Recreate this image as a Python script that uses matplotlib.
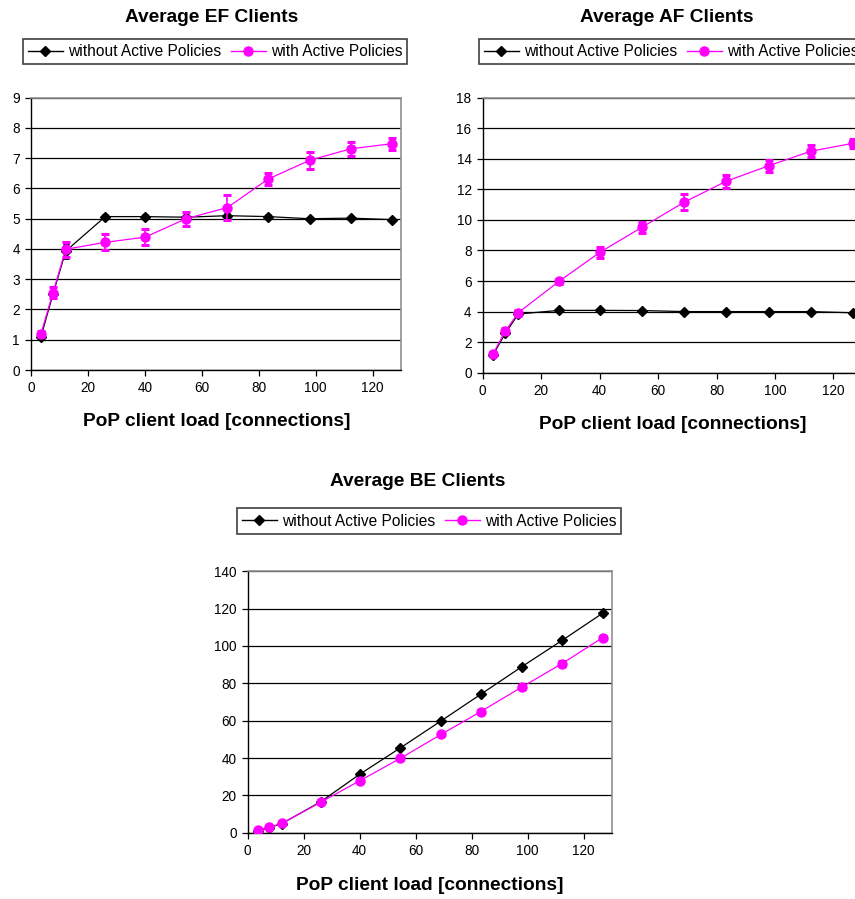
import matplotlib
matplotlib.use("Agg")
import matplotlib.pyplot as plt
from matplotlib.lines import Line2D

plt.rcParams['font.family'] = ['Liberation Sans', 'DejaVu Sans']

# ---- data ----
load = [3.5, 7.7, 12.2, 26.1, 40.1, 54.5, 69.0, 83.3, 97.9, 112.3, 126.8]

ef_without = [1.1, 2.5, 3.93, 5.07, 5.07, 5.05, 5.1, 5.07, 5.0, 5.02, 4.97]
ef_without_err = [0.05, 0.06, 0.22, 0.04, 0.04, 0.04, 0.04, 0.04, 0.04, 0.04, 0.03]
ef_with = [1.2, 2.55, 3.99, 4.22, 4.39, 5.0, 5.37, 6.31, 6.93, 7.31, 7.48]
ef_with_err = [0.1, 0.18, 0.24, 0.26, 0.27, 0.23, 0.4, 0.21, 0.28, 0.23, 0.2]

af_without = [1.15, 2.57, 3.84, 4.08, 4.08, 4.07, 4.0, 4.0, 4.0, 4.0, 3.92]
af_without_err = [0.05, 0.05, 0.05, 0.04, 0.04, 0.04, 0.04, 0.04, 0.04, 0.04, 0.04]
af_with = [1.22, 2.72, 3.93, 5.98, 7.88, 9.52, 11.17, 12.53, 13.55, 14.5, 15.02]
af_with_err = [0.12, 0.2, 0.2, 0.18, 0.38, 0.35, 0.55, 0.42, 0.4, 0.38, 0.3]

be_without = [1.1, 2.7, 4.9, 16.6, 31.4, 45.4, 59.8, 74.2, 88.9, 103.0, 117.6]
be_without_err = [0.3, 0.3, 0.4, 0.5, 0.6, 0.6, 0.6, 0.7, 0.7, 0.8, 0.8]
be_with = [1.4, 2.9, 5.0, 16.3, 27.9, 39.8, 52.6, 64.9, 78.0, 90.6, 104.5]
be_with_err = [0.4, 0.4, 0.5, 0.6, 0.8, 0.9, 1.0, 1.0, 1.0, 1.1, 1.1]

titles = ["Average EF Clients", "Average AF Clients", "Average BE Clients"]
labels = ["without Active Policies", "with Active Policies"]
xlabel = "PoP client load [connections]"
x_ticks = [0, 20, 40, 60, 80, 100, 120]

MAG = '#FF00FF'
W, H = 855, 899
fig = plt.figure(figsize=(W / 100, H / 100), dpi=100)

TITLE_FS = 13.8
LEG_FS = 11.2
TICK_FS = 9.8


def px_axes(left, top, right, bottom):
    return fig.add_axes([left / W, 1 - bottom / H, (right - left) / W, (bottom - top) / H])


def draw(ax, y0, e0, y1, e1, ymax, ystep):
    ax.errorbar(load, y0, yerr=e0, color='black', lw=0.9, marker='D', ms=5.5,
                mfc='black', mec='black', elinewidth=1.2, capsize=2.5, capthick=2.0, zorder=3)
    ax.errorbar(load, y1, yerr=e1, color=MAG, lw=0.9, marker='o', ms=6.5,
                mfc=MAG, mec=MAG, elinewidth=1.2, capsize=3, capthick=2.2, zorder=4)
    ax.set_xlim(0, 130)
    ax.set_ylim(0, ymax)
    ax.set_xticks(x_ticks)
    ax.set_yticks(list(range(0, ymax + 1, ystep)))
    ax.yaxis.grid(True, color='black', lw=0.9)
    ax.set_axisbelow(True)
    for s in ['top', 'right']:
        ax.spines[s].set_color('#909090')
        ax.spines[s].set_linewidth(1.2)
    for s in ['left', 'bottom']:
        ax.spines[s].set_color('black')
        ax.spines[s].set_linewidth(1.0)
    ax.tick_params(axis='both', direction='out', length=4, width=0.9, labelsize=TICK_FS, pad=4)


handles = [
    Line2D([], [], color='black', lw=1.0, marker='D', ms=5.5, mfc='black', mec='black'),
    Line2D([], [], color=MAG, lw=1.0, marker='o', ms=6.5, mfc=MAG, mec=MAG),
]


def legend(cx, cy):
    leg = fig.legend(handles, labels, loc='center', bbox_to_anchor=(cx / W, 1 - cy / H),
                     ncol=2, fontsize=LEG_FS, frameon=True, fancybox=False, edgecolor='#404040',
                     framealpha=1, handlelength=2.25, handletextpad=0.3, columnspacing=0.65,
                     borderpad=0.35, borderaxespad=0)
    leg.get_frame().set_linewidth(1.2)


# EF
ax1 = px_axes(31, 97.7, 401, 370)
draw(ax1, ef_without, ef_without_err, ef_with, ef_with_err, 9, 1)
fig.text(212 / W, 1 - 17 / H, titles[0], ha='center', va='center', fontsize=TITLE_FS, fontweight='bold')
legend(215, 51.5)
fig.text(216.7 / W, 1 - 422 / H, xlabel, ha='center', va='center', fontsize=TITLE_FS, fontweight='bold')

# AF
ax2 = px_axes(482.7, 97.7, 482.7 + 380, 372.7)
draw(ax2, af_without, af_without_err, af_with, af_with_err, 18, 2)
fig.text(666.7 / W, 1 - 17 / H, titles[1], ha='center', va='center', fontsize=TITLE_FS, fontweight='bold')
legend(671, 51.5)
fig.text(672.5 / W, 1 - 424 / H, xlabel, ha='center', va='center', fontsize=TITLE_FS, fontweight='bold')

# BE
ax3 = px_axes(247.7, 571.3, 611.7, 832.7)
draw(ax3, be_without, be_without_err, be_with, be_with_err, 140, 20)
fig.text(418 / W, 1 - 481.7 / H, titles[2], ha='center', va='center', fontsize=TITLE_FS, fontweight='bold')
legend(429, 521.3)
fig.text(430 / W, 1 - 886 / H, xlabel, ha='center', va='center', fontsize=TITLE_FS, fontweight='bold')

fig.savefig('out.png', dpi=100)
